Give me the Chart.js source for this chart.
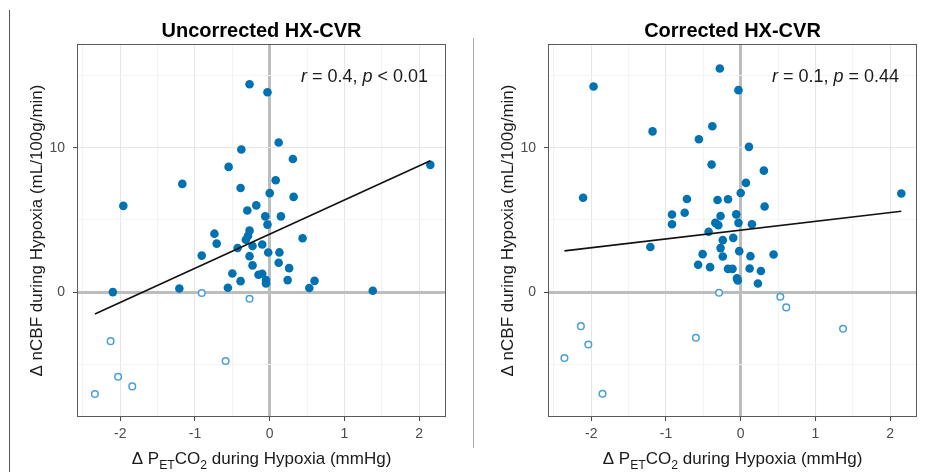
<!DOCTYPE html>
<html>
<head>
<meta charset="utf-8">
<script src="https://cdn.jsdelivr.net/npm/chart.js@4.4.0/dist/chart.umd.min.js"></script>
<style>
  body { margin: 0; background: #fff; width: 925px; height: 472px; position: relative; overflow: hidden; }
  canvas { position: absolute; top: 0; }
  #izq { left: 0; }
  #der { left: 471px; }
  .linea { position: absolute; width: 1px; }
</style>
</head>
<body>
<div class="linea" style="left:9px; top:10px; height:462px; background:#555;"></div>
<div class="linea" style="left:473px; top:38px; height:410px; background:#aaa;"></div>
<canvas id="izq" width="454" height="472"></canvas>
<canvas id="der" width="454" height="472"></canvas>
<script>
// DATOS - panel sin corregir (Uncorrected)
const sinCorrLlenoX = [-0.27, -0.03, 0.12, -0.38, 0.31, 2.15, -0.55, 0.08, -1.17, -0.39, 0.0, 0.32, -1.96, -0.18, -0.30, -0.06,
  0.15, -0.03, -0.27, -0.74, -0.29, -0.32, -0.71, 0.44, -0.43, -0.23, -0.10, -0.91, -0.27, -0.02, 0.13, -0.23, 0.12, 0.26,
  -0.50, -0.15, -0.10, -0.39, -0.05, -0.05, 0.24, -0.56, 0.60, 0.53, -2.10, -1.21, 1.38];
const sinCorrLlenoY = [14.41, 13.86, 10.37, 9.89, 9.23, 8.82, 8.68, 7.75, 7.5, 7.22, 6.86, 6.6, 5.98, 6.01, 5.66, 5.25,
  5.25, 4.68, 4.26, 4.05, 3.9, 3.63, 3.36, 3.73, 3.06, 3.19, 3.3, 2.53, 2.49, 2.74, 2.75, 1.85, 2.03, 1.66,
  1.29, 1.2, 1.27, 0.76, 0.83, 0.6, 0.83, 0.3, 0.78, 0.28, 0.0, 0.25, 0.09];
const sinCorrVacioX = [-0.91, -0.27, -2.13, -0.59, -2.03, -1.84, -2.34];
const sinCorrVacioY = [-0.06, -0.46, -3.4, -4.78, -5.87, -6.54, -7.07];
const sinCorrAjusteX = [-2.34, 2.15];
const sinCorrAjusteY = [-1.52, 9.1];

// DATOS - panel corregido (Corrected)
const corrLlenoX = [-0.28, -1.97, -0.03, -0.38, -1.18, -0.56, 0.11, -0.39, 0.31, 0.07, 0.0, 2.15, -2.11, -0.72, -0.31, -0.17,
  0.32, -0.92, -0.75, -0.27, -0.06, -0.92, -0.34, -0.30, -0.03, 0.15, -0.43, -0.10, -0.24, -1.21, -0.27, -0.51, -0.24,
  -0.02, 0.13, 0.44, -0.57, -0.41, -0.17, -0.11, 0.12, 0.27, -0.05, -0.04, 0.23];
const corrLlenoY = [15.5, 14.25, 14.0, 11.5, 11.14, 10.6, 10.07, 8.84, 8.42, 7.57, 6.87, 6.84, 6.54, 6.45, 6.38, 6.44,
  5.93, 5.38, 5.5, 5.27, 5.39, 4.7, 4.8, 4.64, 4.8, 4.7, 4.18, 3.76, 3.6, 3.13, 3.05, 2.63, 2.47,
  2.84, 2.49, 2.61, 1.89, 1.73, 1.61, 1.61, 1.64, 1.46, 0.95, 0.81, 0.6];
const corrVacioX = [-0.29, 0.53, 0.61, 1.37, -2.14, -0.60, -2.04, -2.36, -1.85];
const corrVacioY = [-0.05, -0.32, -1.06, -2.54, -2.36, -3.17, -3.63, -4.57, -7.05];
const corrAjusteX = [-2.36, 2.15];
const corrAjusteY = [2.86, 5.61];

// ejes
const xMin = -2.58, xMax = 2.36;
const yMin = -8.66, yMax = 17.2;
const xEtiquetas = [-2, -1, 0, 1, 2];
const yEtiquetas = [0, 10];

const FUENTE = '"Liberation Sans", Arial, sans-serif';

function juntar(xs, ys) {
    return xs.map((x, i) => ({ x: x, y: ys[i] }));
}

// dibuja un texto hecho de partes (normal / cursiva / subindice)
function textoPartes(ctx, partes, x, y, tam, alinear) {
    let ancho = 0;
    partes.forEach(p => {
        ctx.font = (p.it ? 'italic ' : '') + (p.sub ? tam * 0.72 : tam) + 'px ' + FUENTE;
        p.w = ctx.measureText(p.t).width;
        ancho += p.w;
    });
    let x0 = alinear === 'right' ? x - ancho : (alinear === 'center' ? x - ancho / 2 : x);
    ctx.textAlign = 'left';
    ctx.textBaseline = 'alphabetic';
    partes.forEach(p => {
        ctx.font = (p.it ? 'italic ' : '') + (p.sub ? tam * 0.72 : tam) + 'px ' + FUENTE;
        ctx.fillText(p.t, x0, y + (p.sub ? tam * 0.28 : 0));
        x0 += p.w;
    });
}

const textosPlugin = {
    id: 'textos',
    afterDraw(chart, args, opts) {
        const ctx = chart.ctx;
        const a = chart.chartArea;
        ctx.save();
        // borde del panel
        ctx.strokeStyle = '#5a5a5a';
        ctx.lineWidth = 1;
        ctx.strokeRect(a.left + 0.5, a.top + 0.5, a.right - a.left - 1, a.bottom - a.top - 1);
        // titulo
        ctx.fillStyle = '#000';
        ctx.font = 'bold 20px ' + FUENTE;
        ctx.textAlign = 'center';
        ctx.textBaseline = 'middle';
        ctx.fillText(opts.titulo, (a.left + a.right) / 2, 31);
        // r y p
        ctx.fillStyle = '#1a1a1a';
        textoPartes(ctx, opts.stats, a.right - 18, 82, 18, 'right');
        // titulo eje x
        textoPartes(ctx, [
            { t: 'Δ P' }, { t: 'ET', sub: true }, { t: 'CO' }, { t: '2', sub: true }, { t: ' during Hypoxia (mmHg)' }
        ], (a.left + a.right) / 2, 464, 17, 'center');
        // titulo eje y
        ctx.translate(37, (a.top + a.bottom) / 2);
        ctx.rotate(-Math.PI / 2);
        ctx.font = '17px ' + FUENTE;
        ctx.textAlign = 'center';
        ctx.textBaseline = 'middle';
        ctx.fillText('Δ nCBF during Hypoxia (mL/100g/min)', 0, 0);
        ctx.restore();
    }
};

function colorGrid(valor, principales) {
    if (valor === 0) return '#bdbdbd';
    return principales.includes(valor) ? '#e6e6e6' : '#f3f3f3';
}

function anchoGrid(valor) {
    return valor === 0 ? 3 : 1.1;
}

function crearGrafico(canvasId, titulo, stats, llenoX, llenoY, vacioX, vacioY, ajusteX, ajusteY) {
    const ctx = document.getElementById(canvasId).getContext('2d');
    return new Chart(ctx, {
        type: 'scatter',
        data: {
            datasets: [
                {
                    type: 'line',
                    data: juntar(ajusteX, ajusteY),
                    borderColor: '#111',
                    borderWidth: 1.6,
                    pointRadius: 0,
                    fill: false
                },
                {
                    data: juntar(llenoX, llenoY),
                    backgroundColor: '#0072B2',
                    borderColor: '#0072B2',
                    borderWidth: 0,
                    pointRadius: 4.3
                },
                {
                    data: juntar(vacioX, vacioY),
                    backgroundColor: '#fff',
                    borderColor: '#4a9fd8',
                    borderWidth: 1.5,
                    pointRadius: 3.3
                }
            ]
        },
        options: {
            responsive: false,
            animation: false,
            layout: { padding: { left: 0, top: 44, right: 8, bottom: 0 } },
            plugins: {
                legend: { display: false },
                tooltip: { enabled: false },
                textos: { titulo: titulo, stats: stats }
            },
            scales: {
                x: {
                    type: 'linear',
                    min: xMin,
                    max: xMax,
                    afterFit: s => { s.height = 55; },
                    border: { display: false },
                    ticks: {
                        stepSize: 0.5,
                        includeBounds: false,
                        autoSkip: false,
                        maxRotation: 0,
                        padding: 5,
                        color: '#4d4d4d',
                        font: { family: FUENTE, size: 14 },
                        callback: v => xEtiquetas.includes(v) ? String(v) : ''
                    },
                    grid: {
                        color: c => colorGrid(c.tick.value, xEtiquetas),
                        lineWidth: c => anchoGrid(c.tick.value),
                        tickLength: 4,
                        tickWidth: 1,
                        tickColor: c => xEtiquetas.includes(c.tick.value) ? '#444' : 'rgba(0,0,0,0)'
                    }
                },
                y: {
                    type: 'linear',
                    min: yMin,
                    max: yMax,
                    afterFit: s => { s.width = 77; },
                    border: { display: false },
                    ticks: {
                        stepSize: 5,
                        includeBounds: false,
                        autoSkip: false,
                        padding: 8,
                        color: '#4d4d4d',
                        font: { family: FUENTE, size: 14 },
                        callback: v => yEtiquetas.includes(v) ? String(v) : ''
                    },
                    grid: {
                        color: c => colorGrid(c.tick.value, yEtiquetas),
                        lineWidth: c => anchoGrid(c.tick.value),
                        tickLength: 4,
                        tickWidth: 1,
                        tickColor: c => yEtiquetas.includes(c.tick.value) ? '#444' : 'rgba(0,0,0,0)'
                    }
                }
            }
        },
        plugins: [textosPlugin]
    });
}

// Crear graficos
const graficoIzq = crearGrafico('izq', 'Uncorrected HX-CVR',
    [{ t: 'r', it: true }, { t: ' = 0.4, ' }, { t: 'p', it: true }, { t: ' < 0.01' }],
    sinCorrLlenoX, sinCorrLlenoY, sinCorrVacioX, sinCorrVacioY, sinCorrAjusteX, sinCorrAjusteY);

const graficoDer = crearGrafico('der', 'Corrected HX-CVR',
    [{ t: 'r', it: true }, { t: ' = 0.1, ' }, { t: 'p', it: true }, { t: ' = 0.44' }],
    corrLlenoX, corrLlenoY, corrVacioX, corrVacioY, corrAjusteX, corrAjusteY);
</script>
</body>
</html>
